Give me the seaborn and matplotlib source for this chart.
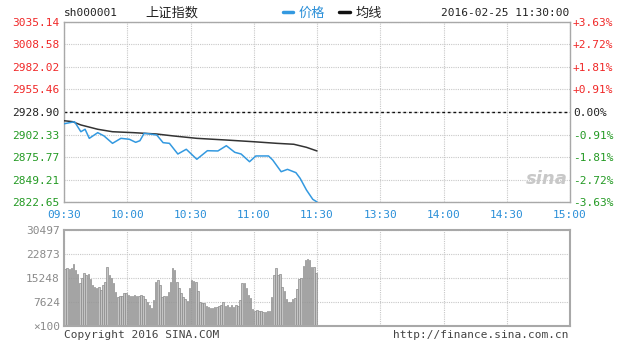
import numpy as np
import matplotlib
matplotlib.use("Agg")
import matplotlib.pyplot as plt
import seaborn as sns

# minutes since 09:30 (afternoon session continues after 120)
price_minutes = [0, 5, 8, 10, 12, 16, 19, 23, 27, 31, 34, 36, 38, 41, 44, 47, 50, 54, 58,
                 63, 68, 73, 77, 81, 84, 88, 91, 97, 99, 103, 106, 110, 112, 115, 118, 120]
price_values = [2915.0, 2917.4, 2905.6, 2908.5, 2897.8, 2904.5, 2900.6, 2891.9, 2897.8,
                2896.7, 2893.1, 2895.0, 2903.7, 2902.9, 2901.7, 2892.7, 2891.9, 2879.3,
                2884.9, 2873.1, 2883.2, 2882.9, 2889.1, 2881.3, 2879.3, 2870.2, 2877.0,
                2877.0, 2872.2, 2858.4, 2861.2, 2857.3, 2850.6, 2836.8, 2825.8, 2822.7]

avg_minutes = [0, 4, 8, 16, 23, 33, 44, 52, 63, 77, 90, 101, 109, 115, 120]
avg_values = [2918.6, 2917.5, 2913.6, 2908.5, 2905.6, 2904.5, 2902.9, 2900.6, 2897.8,
              2895.8, 2893.8, 2891.9, 2890.8, 2887.2, 2882.9]

volume = [
    18109, 18321, 18109, 18321, 19592, 17791, 16415, 13767, 15144, 16733,
    16203, 16520, 14826, 13026, 12496, 11967, 12496, 11437, 13026, 14085,
    18850, 16203, 15144, 13556, 10908, 9319, 9531, 9531, 10378, 10590,
    9849, 9531, 9531, 9849, 9531, 9531, 9849, 9531, 8472, 7731,
    6672, 5613, 8260, 14085, 14614, 13026, 9107, 9531, 9531, 10908,
    14085, 18321, 17791, 14085, 11967, 10590, 9107, 8472, 8048, 11967,
    14614, 14402, 14085, 11226, 7731, 7413, 7201, 6354, 5931, 5613,
    5613, 5931, 5931, 6354, 6672, 7731, 6354, 6672, 5931, 6672,
    6142, 6672, 6354, 8260, 13767, 13556, 11967, 9849, 8790, 5295,
    4871, 5083, 4871, 4871, 4554, 4554, 4871, 4871, 9319, 16203,
    18321, 16203, 16520, 12496, 11226, 8472, 7731, 7731, 8472, 8790,
    11649, 14826, 15144, 19062, 20968, 21180, 20968, 18850, 18638, 16733,
]

price_ticks = [2822.65, 2849.21, 2875.77, 2902.33, 2928.90, 2955.46, 2982.02, 3008.58, 3035.14]
pct_labels = ["-3.63%", "-2.72%", "-1.81%", "-0.91%", "0.00%", "+0.91%", "+1.81%", "+2.72%", "+3.63%"]
vol_ticks = [0, 7624, 15248, 22873, 30497]
vol_labels = ["\u00d7100", "7624", "15248", "22873", "30497"]
time_ticks = [0, 30, 60, 90, 120, 150, 180, 210, 240]
time_labels = ["09:30", "10:00", "10:30", "11:00", "11:30", "13:30", "14:00", "14:30", "15:00"]
prev_close = 2928.90

RED = "#f02828"
GREEN = "#249a24"
BLUE = "#2a8fd8"
LINE_BLUE = "#3399e0"
GRID = "#c8c8c8"
BORDER = "#a8a8a8"
MONO = "DejaVu Sans Mono"

sns.set_style("white")
plt.rcParams["font.family"] = [MONO, "Noto Sans CJK SC"]

W, H = 621, 354
fig = plt.figure(figsize=(W / 100, H / 100), dpi=100)


def fx(px):
    return px / W


def fy(py):
    return 1 - py / H


ax = fig.add_axes([fx(64), fy(202), fx(570) - fx(64), fy(22) - fy(202)])
axv = fig.add_axes([fx(64), fy(326), fx(570) - fx(64), fy(230) - fy(326)])

# price panel
ax.set_xlim(0, 240)
ax.set_ylim(price_ticks[0], price_ticks[-1])
ax.grid(True, color=GRID, ls=(0, (1, 1)), lw=0.8)
ax.set_axisbelow(True)
ax.axhline(prev_close, color="#111111", ls=(0, (2, 2)), lw=1.0, zorder=2)
sns.lineplot(x=avg_minutes, y=avg_values, ax=ax, color="#333333", lw=1.1, zorder=3)
sns.lineplot(x=price_minutes, y=price_values, ax=ax, color=LINE_BLUE, lw=1.1, zorder=4)

ax.set_xticks(time_ticks)
ax.set_xticklabels(time_labels, color=BLUE, fontsize=8, family=MONO)
ax.set_yticks(price_ticks)
ax.set_yticklabels([f"{v:.2f}" for v in price_ticks], fontsize=8, family=MONO)
for lab, v in zip(ax.get_yticklabels(), price_ticks):
    lab.set_color(RED if v > prev_close else (GREEN if v < prev_close else "#222222"))
ax.tick_params(axis="x", length=0, pad=6)
ax.tick_params(axis="y", length=0, pad=3)
ax.set_xlabel("")
ax.set_ylabel("")
for s in ax.spines.values():
    s.set_color(BORDER)
    s.set_linewidth(1.0)

axr = ax.twinx()
axr.set_ylim(price_ticks[0], price_ticks[-1])
axr.set_yticks(price_ticks)
axr.set_yticklabels(pct_labels, fontsize=8, family=MONO)
for lab, v in zip(axr.get_yticklabels(), price_ticks):
    lab.set_color(RED if v > prev_close else (GREEN if v < prev_close else "#222222"))
axr.tick_params(axis="y", length=0, pad=2)
for s in axr.spines.values():
    s.set_visible(False)

ax.text(0.955, 0.13, "sina", transform=ax.transAxes, ha="center", va="center",
        fontsize=13, fontstyle="italic", fontweight="bold", color="#c8c8c8",
        family="DejaVu Sans")

# volume panel
axv.set_xlim(0, 240)
axv.set_ylim(0, vol_ticks[-1])
axv.grid(True, color=GRID, ls=(0, (1, 1)), lw=0.8)
axv.set_axisbelow(True)
vol_x = np.arange(len(volume)) + 0.5
axv.bar(vol_x, volume, width=0.7, color="#c4c4c4", edgecolor="#8a8a8a", linewidth=0.5)
axv.set_xticks(time_ticks)
axv.set_xticklabels([])
axv.set_yticks(vol_ticks)
axv.set_yticklabels(vol_labels, fontsize=8, color="#8a8a8a", family=MONO)
axv.tick_params(length=0, pad=3)
for s in axv.spines.values():
    s.set_color(BORDER)
    s.set_linewidth(1.5)

# header
fig.text(fx(64), fy(13), "sh000001", fontsize=8, family=MONO, color="#222222", va="center")
fig.text(fx(145), fy(13), "上证指数", fontsize=9.5, family="Noto Sans CJK SC", color="#222222", va="center")
fig.lines.append(plt.Line2D([fx(283), fx(293)], [fy(12), fy(12)], color=LINE_BLUE, lw=2.5,
                            transform=fig.transFigure))
fig.text(fx(299), fy(13), "价格", fontsize=9.5, family="Noto Sans CJK SC", color=BLUE, va="center")
fig.lines.append(plt.Line2D([fx(339), fx(350)], [fy(12), fy(12)], color="#111111", lw=2.5,
                            transform=fig.transFigure))
fig.text(fx(356), fy(13), "均线", fontsize=9.5, family="Noto Sans CJK SC", color="#222222", va="center")
fig.text(fx(569), fy(13), "2016-02-25 11:30:00", fontsize=8, family=MONO, color="#222222",
         va="center", ha="right")

# footer
fig.text(fx(64), fy(335), "Copyright 2016 SINA.COM", fontsize=8, family=MONO, color="#444444", va="center")
fig.text(fx(569), fy(335), "http://finance.sina.com.cn", fontsize=8, family=MONO, color="#444444",
         va="center", ha="right")

fig.savefig("out.png", dpi=100)
